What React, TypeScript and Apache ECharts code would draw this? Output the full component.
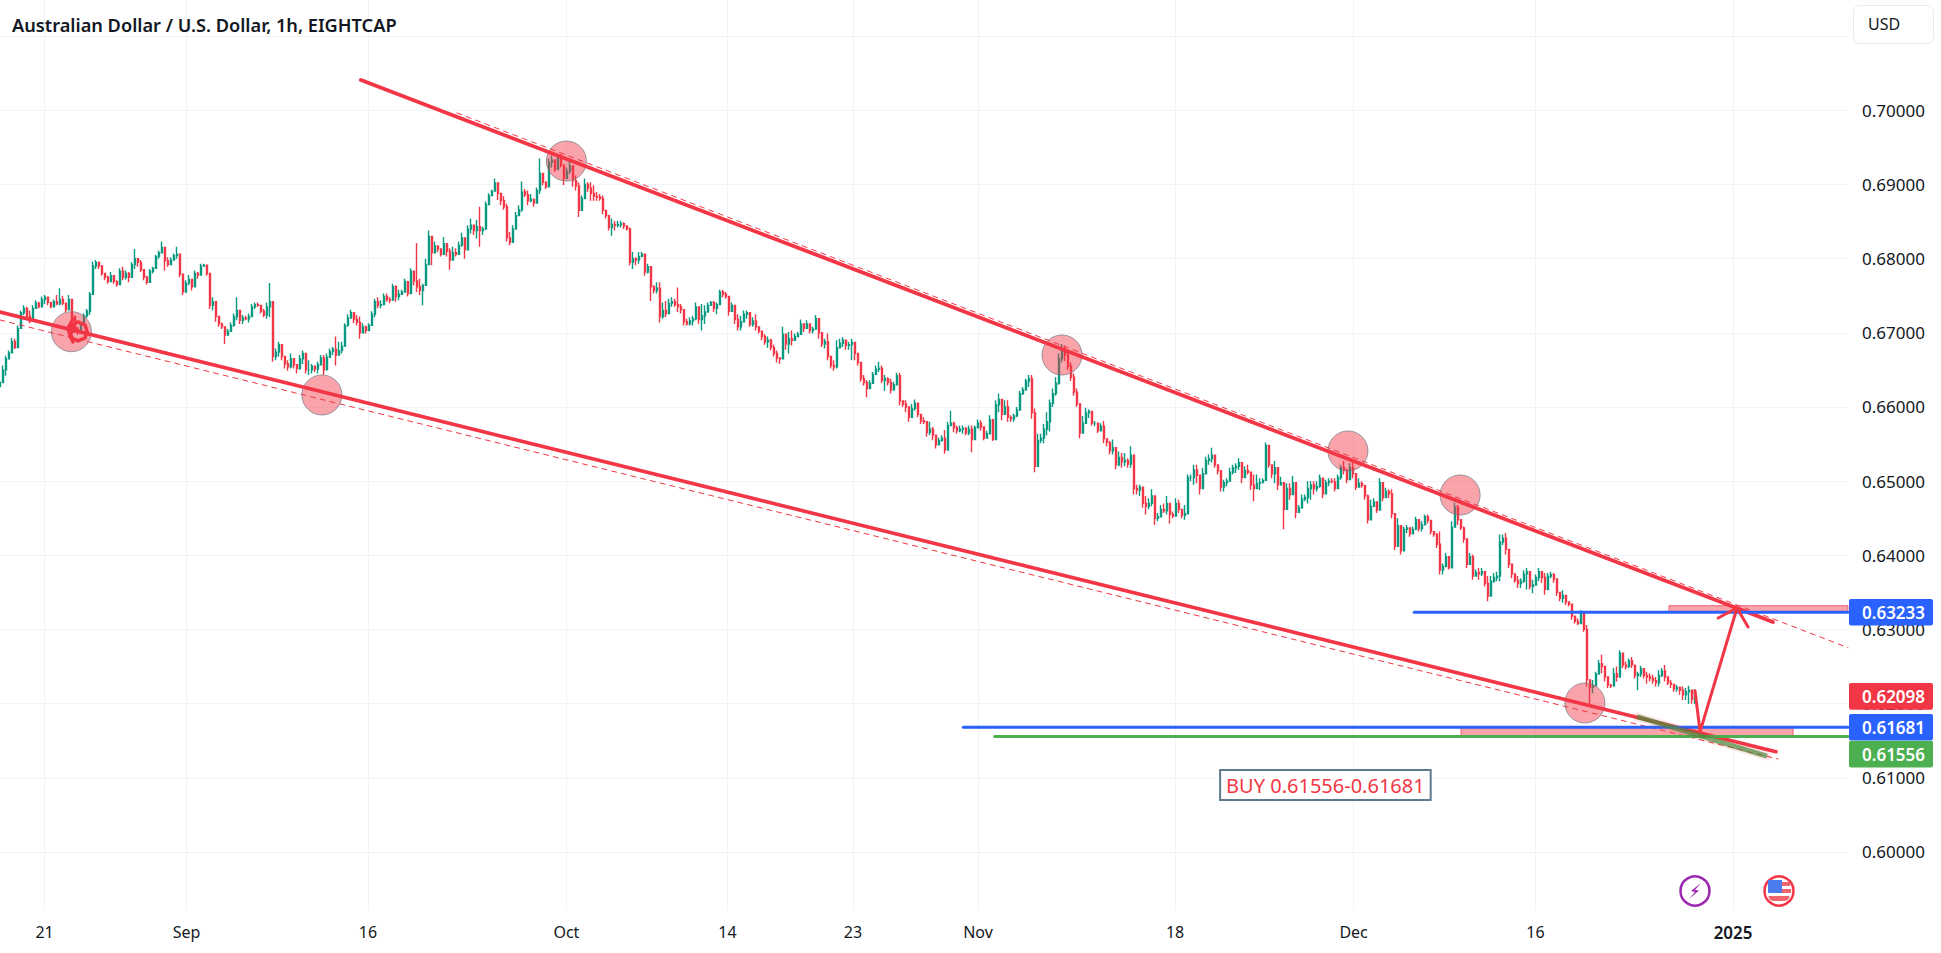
import React, { useEffect, useRef } from "react";
import * as echarts from "echarts";

// Each candle: high, low, close (open = previous close). One candle per 3 px slot.
const augBars = [
.6636,.6625,.6633, .6656,.6642,.6650, .6669,.6642,.6665, .6676,.6667,.6673, .6693,.6675,.6688, .6692,.6678,.6680, .6710,.6692,.6706, .6730,.6710,.6727, .6737,.6724,.6733, .6735,.6719,.6722,
.6730,.6713,.6716, .6737,.6724,.6733, .6744,.6733,.6740, .6742,.6733,.6735, .6749,.6737,.6745, .6751,.6739,.6748, .6748,.6737,.6741, .6741,.6733,.6735, .6745,.6735,.6742, .6751,.6737,.6739,
.6760,.6737,.6745, .6750,.6737,.6740, .6739,.6728,.6731, .6751,.6735,.6745, .6735,.6718,.6722, .6719,.6701,.6705, .6708,.6697,.6703, .6715,.6701,.6712, .6726,.6714,.6723, .6732,.6720,.6729,
.6755,.6724,.6752, .6796,.6753,.6790, .6798,.6786,.6795, .6796,.6786,.6790, .6787,.6777,.6780, .6780,.6771,.6775, .6777,.6766,.6769, .6782,.6769,.6777, .6775,.6766,.6769, .6771,.6762,.6765,
.6787,.6771,.6783, .6789,.6771,.6775, .6784,.6772,.6780, .6782,.6768,.6775, .6795,.6786,.6792, .6813,.6786,.6800, .6800,.6789,.6795, .6798,.6782,.6785, .6782,.6771,.6775, .6777,.6765,.6768,
.6786,.6777,.6783, .6789,.6780,.6787,
];
const sepBars = [
.6805,.6796,.6803, .6811,.6800,.6808, .6823,.6812,.6815, .6811,.6784,.6797, .6802,.6789,.6792, .6802,.6791,.6798, .6807,.6798,.6804, .6816,.6800,.6806,
.6804,.6775,.6779, .6769,.6751,.6755, .6771,.6760,.6767, .6778,.6764,.6772, .6769,.6757,.6762, .6784,.6769,.6780, .6782,.6773,.6778, .6793,.6784,.6790, .6793,.6789,.6791, .6791,.6777,.6780,
.6777,.6732,.6737, .6748,.6730,.6742, .6737,.6715,.6722, .6719,.6708,.6712, .6714,.6705,.6708, .6705,.6685,.6697, .6705,.6696,.6702, .6714,.6701,.6710, .6726,.6708,.6722, .6748,.6717,.6730,
.6726,.6712,.6717, .6724,.6712,.6720, .6723,.6717,.6719, .6726,.6714,.6722, .6739,.6726,.6735, .6741,.6732,.6738, .6741,.6735,.6737, .6737,.6726,.6729, .6732,.6721,.6724, .6741,.6719,.6735,
.6767,.6721,.6742, .6722,.6661,.6668, .6679,.6663,.6674, .6688,.6668,.6684, .6683,.6663,.6668, .6667,.6652,.6658, .6663,.6649,.6654, .6672,.6652,.6665, .6663,.6652,.6657, .6658,.6645,.6652,
.6670,.6650,.6665, .6676,.6658,.6672, .6663,.6645,.6650, .6663,.6643,.6650, .6658,.6645,.6655, .6656,.6647,.6651, .6661,.6645,.6657, .6670,.6656,.6666, .6670,.6643,.6650, .6672,.6652,.6667,
.6679,.6670,.6675, .6681,.6670,.6678, .6695,.6656,.6670, .6688,.6672,.6676, .6688,.6672,.6682, .6713,.6685,.6710, .6725,.6708,.6720, .6731,.6721,.6727, .6728,.6713,.6718, .6724,.6710,.6714,
.6722,.6692,.6700, .6713,.6704,.6708, .6710,.6699,.6703, .6713,.6706,.6710, .6729,.6719,.6725, .6746,.6721,.6742, .6748,.6733,.6737, .6744,.6733,.6738, .6753,.6742,.6749, .6753,.6742,.6745,
.6748,.6740,.6744, .6766,.6751,.6762, .6764,.6742,.6749, .6758,.6744,.6752, .6758,.6751,.6755, .6773,.6760,.6769, .6766,.6749,.6753, .6787,.6771,.6783, .6778,.6764,.6770, .6821,.6755,.6762,
.6773,.6751,.6757, .6766,.6737,.6764, .6800,.6764,.6792, .6838,.6793,.6830, .6823,.6791,.6808, .6823,.6809,.6817, .6816,.6809,.6813, .6814,.6803,.6806, .6829,.6809,.6820, .6818,.6803,.6810,
.6814,.6785,.6798, .6816,.6803,.6808, .6814,.6803,.6806, .6823,.6805,.6818, .6835,.6816,.6828, .6827,.6800,.6812, .6845,.6823,.6840, .6854,.6834,.6845, .6845,.6832,.6838, .6852,.6827,.6843,
.6870,.6816,.6838, .6843,.6832,.6840, .6877,.6863,.6873, .6888,.6877,.6885, .6893,.6888,.6891, .6908,.6893,.6902, .6899,.6879,.6888, .6886,.6872,.6878, .6884,.6866,.6870, .6874,.6823,.6828,
.6836,.6818,.6822, .6845,.6827,.6840, .6863,.6843,.6858, .6872,.6859,.6866, .6904,.6863,.6890, .6894,.6883,.6886, .6892,.6872,.6878, .6887,.6876,.6880, .6881,.6870,.6875, .6896,.6883,.6892,
.6935,.6887,.6915, .6915,.6899,.6903, .6903,.6894,.6897, .6935,.6917,.6930, .6939,.6923,.6933, .6928,.6917,.6920, .6939,.6923,.6935, .6941,.6923,.6926, .6926,.6899,.6908, .6923,.6910,.6918,
];
const octBars = [
.6932,.6914,.6925, .6917,.6897,.6905, .6912,.6892,.6898, .6903,.6856,.6865, .6885,.6878,.6881, .6908,.6881,.6900, .6903,.6890,.6895, .6903,.6878,.6888, .6899,.6878,.6884, .6890,.6878,.6883,
.6887,.6878,.6881, .6885,.6860,.6865, .6865,.6854,.6858, .6854,.6838,.6842, .6854,.6831,.6846, .6851,.6838,.6845, .6851,.6842,.6846, .6851,.6842,.6847, .6849,.6840,.6844, .6845,.6838,.6840,
.6842,.6791,.6795, .6809,.6786,.6800, .6802,.6791,.6798, .6809,.6793,.6803, .6809,.6802,.6806, .6802,.6777,.6782, .6793,.6780,.6789, .6788,.6743,.6762, .6764,.6753,.6757, .6768,.6753,.6760,
.6768,.6714,.6722, .6741,.6719,.6730, .6743,.6721,.6726, .6746,.6730,.6740, .6748,.6735,.6742, .6746,.6735,.6738, .6761,.6728,.6735, .6739,.6726,.6731, .6725,.6710,.6715, .6719,.6710,.6712,
.6721,.6710,.6716, .6723,.6710,.6719, .6741,.6717,.6735, .6735,.6712,.6718, .6739,.6703,.6723, .6737,.6712,.6728, .6741,.6732,.6737, .6743,.6737,.6741, .6743,.6728,.6733, .6741,.6725,.6738,
.6758,.6743,.6755, .6758,.6748,.6752, .6755,.6746,.6749, .6743,.6723,.6729, .6741,.6730,.6737, .6735,.6712,.6718, .6725,.6703,.6708, .6723,.6703,.6715, .6730,.6714,.6725, .6730,.6719,.6727,
.6719,.6708,.6711, .6721,.6708,.6716, .6725,.6703,.6708, .6708,.6699,.6702, .6703,.6690,.6695, .6698,.6684,.6688, .6695,.6680,.6690, .6692,.6676,.6680, .6684,.6668,.6672, .6676,.6660,.6666,
.6667,.6658,.6665, .6708,.6667,.6698, .6697,.6677,.6685, .6701,.6672,.6692, .6703,.6683,.6690, .6699,.6690,.6695, .6701,.6695,.6698, .6718,.6699,.6712, .6712,.6701,.6706, .6717,.6706,.6712,
.6712,.6699,.6703, .6708,.6699,.6705, .6724,.6708,.6719, .6719,.6692,.6700, .6694,.6681,.6685, .6692,.6679,.6688, .6699,.6663,.6668, .6663,.6652,.6656, .6663,.6649,.6654, .6690,.6652,.6680,
.6692,.6679,.6686, .6694,.6681,.6690, .6690,.6677,.6683, .6688,.6677,.6684, .6692,.6663,.6687, .6685,.6663,.6672, .6670,.6656,.6660, .6652,.6634,.6638, .6643,.6629,.6633, .6636,.6613,.6625,
.6636,.6627,.6632, .6647,.6634,.6644, .6656,.6643,.6651, .6661,.6647,.6652, .6656,.6632,.6636, .6643,.6622,.6638, .6640,.6629,.6633, .6638,.6618,.6623, .6634,.6622,.6630, .6646,.6629,.6642,
];
const novBars = [
.6646,.6602,.6608, .6609,.6600,.6604, .6609,.6593,.6600, .6600,.6580,.6586, .6604,.6593,.6598, .6610,.6595,.6605, .6604,.6586,.6590, .6586,.6577,.6581, .6586,.6577,.6580, .6580,.6560,.6566,
.6580,.6562,.6570, .6573,.6555,.6562, .6562,.6544,.6549, .6559,.6551,.6555, .6562,.6553,.6558, .6569,.6537,.6542, .6580,.6564,.6575, .6595,.6575,.6578, .6580,.6566,.6572, .6575,.6564,.6568,
.6575,.6566,.6570, .6575,.6564,.6571, .6573,.6562,.6565, .6575,.6562,.6570, .6575,.6539,.6556, .6575,.6564,.6572, .6583,.6571,.6578, .6582,.6568,.6573, .6564,.6555,.6558, .6568,.6559,.6564,
.6589,.6564,.6583, .6562,.6554,.6556, .6609,.6584,.6603, .6618,.6593,.6610, .6600,.6582,.6590, .6609,.6591,.6600, .6609,.6580,.6586, .6589,.6580,.6584, .6591,.6580,.6588, .6600,.6586,.6596,
.6622,.6604,.6618, .6627,.6616,.6623, .6638,.6622,.6635, .6643,.6627,.6638, .6643,.6584,.6592, .6598,.6512,.6520, .6564,.6519,.6555, .6564,.6551,.6558, .6577,.6551,.6570, .6593,.6562,.6580,
.6610,.6567,.6605, .6625,.6600,.6618, .6640,.6615,.6632, .6672,.6630,.6665, .6685,.6660,.6678, .6683,.6662,.6670, .6675,.6650,.6655, .6660,.6635,.6640, .6645,.6615,.6620, .6625,.6600,.6604,
.6594,.6558,.6565, .6588,.6572,.6578, .6599,.6585,.6592, .6597,.6585,.6594, .6587,.6575,.6578, .6581,.6574,.6578, .6576,.6565,.6568, .6578,.6567,.6574, .6581,.6551,.6557, .6558,.6547,.6552,
.6554,.6536,.6541, .6556,.6536,.6545, .6536,.6516,.6522, .6540,.6520,.6532, .6538,.6518,.6526, .6538,.6520,.6528, .6531,.6518,.6523, .6547,.6518,.6535, .6531,.6482,.6490, .6495,.6482,.6488,
.6495,.6480,.6492, .6489,.6464,.6470, .6480,.6455,.6466, .6477,.6462,.6470, .6489,.6466,.6480, .6457,.6441,.6450, .6457,.6446,.6452, .6468,.6455,.6462, .6470,.6457,.6460, .6480,.6455,.6470,
.6468,.6443,.6455, .6459,.6450,.6453, .6477,.6462,.6470, .6475,.6457,.6462, .6461,.6450,.6454, .6468,.6448,.6456, .6509,.6462,.6505, .6509,.6500,.6505, .6522,.6495,.6515, .6522,.6497,.6508,
.6504,.6482,.6490, .6518,.6491,.6510, .6533,.6513,.6528, .6536,.6522,.6530, .6545,.6525,.6535, .6531,.6518,.6522, .6522,.6509,.6514, .6509,.6486,.6492, .6502,.6486,.6498, .6504,.6493,.6500,
.6518,.6500,.6512, .6522,.6509,.6518, .6524,.6511,.6520, .6531,.6515,.6525, .6520,.6497,.6505, .6520,.6509,.6514, .6522,.6509,.6512, .6513,.6488,.6495, .6509,.6473,.6490, .6509,.6491,.6497,
];
const decBars = [
.6504,.6488,.6498, .6504,.6497,.6501, .6552,.6524,.6548, .6540,.6518,.6522, .6518,.6504,.6510, .6527,.6497,.6518, .6506,.6488,.6495, .6506,.6495,.6498, .6468,.6435,.6462, .6497,.6477,.6490,
.6497,.6475,.6482, .6507,.6484,.6498, .6484,.6450,.6458, .6468,.6457,.6464, .6482,.6470,.6476, .6482,.6473,.6478, .6500,.6470,.6490,
.6500,.6475,.6495, .6500,.6482,.6490, .6500,.6486,.6493, .6509,.6491,.6504, .6491,.6477,.6483, .6502,.6491,.6498, .6504,.6493,.6500, .6504,.6497,.6499, .6504,.6486,.6490, .6509,.6497,.6505,
.6522,.6502,.6518, .6527,.6509,.6515, .6513,.6497,.6502, .6524,.6506,.6518, .6527,.6504,.6510, .6504,.6488,.6492, .6504,.6491,.6497, .6500,.6491,.6494, .6495,.6475,.6480, .6482,.6443,.6448,
.6475,.6457,.6466, .6477,.6466,.6472, .6470,.6457,.6461, .6504,.6477,.6498, .6491,.6473,.6478, .6491,.6480,.6486, .6489,.6477,.6483, .6489,.6450,.6456, .6450,.6407,.6412, .6450,.6423,.6440,
.6428,.6401,.6406, .6439,.6425,.6435, .6441,.6430,.6437, .6434,.6425,.6429, .6439,.6430,.6435, .6452,.6437,.6448, .6441,.6432,.6436, .6446,.6432,.6441, .6455,.6448,.6452, .6455,.6443,.6447,
.6443,.6428,.6432, .6432,.6425,.6428, .6430,.6410,.6415, .6432,.6374,.6380, .6389,.6374,.6385, .6403,.6385,.6398, .6387,.6381,.6383, .6446,.6383,.6438, .6471,.6448,.6465, .6468,.6441,.6448,
.6443,.6434,.6437, .6439,.6417,.6422, .6405,.6383,.6388, .6403,.6390,.6398, .6401,.6367,.6372, .6381,.6374,.6377, .6383,.6367,.6375, .6383,.6372,.6378, .6372,.6358,.6362, .6372,.6338,.6345,
.6372,.6354,.6365, .6376,.6363,.6370, .6378,.6365,.6372, .6428,.6365,.6418, .6428,.6414,.6423, .6430,.6401,.6408, .6401,.6383,.6388, .6389,.6369,.6375, .6372,.6363,.6366, .6372,.6356,.6362,
.6369,.6356,.6365, .6380,.6363,.6375, .6383,.6354,.6378, .6363,.6354,.6358, .6367,.6349,.6360, .6374,.6363,.6370, .6383,.6365,.6378, .6378,.6363,.6370, .6376,.6347,.6354, .6376,.6363,.6372,
.6378,.6369,.6374, .6376,.6363,.6368, .6363,.6345,.6350, .6351,.6338,.6342, .6353,.6336,.6346, .6345,.6333,.6337, .6338,.6331,.6334, .6333,.6313,.6318, .6317,.6308,.6311, .6315,.6306,.6308,
.6326,.6315,.6323, .6313,.6297,.6300, .6306,.6223,.6232, .6230,.6198,.6222, .6232,.6214,.6224, .6243,.6234,.6240, .6259,.6245,.6254, .6266,.6241,.6250, .6248,.6230,.6236, .6234,.6221,.6225,
.6227,.6221,.6224, .6248,.6223,.6240, .6250,.6230,.6236, .6272,.6252,.6268, .6266,.6248,.6252, .6257,.6246,.6250, .6261,.6248,.6258, .6263,.6248,.6252, .6248,.6234,.6238, .6243,.6218,.6240,
.6251,.6236,.6247, .6243,.6234,.6238, .6243,.6227,.6236, .6241,.6230,.6234, .6239,.6227,.6231, .6236,.6223,.6228, .6245,.6223,.6238, .6248,.6236,.6244, .6252,.6230,.6236, .6234,.6225,.6228,
.6232,.6221,.6226, .6227,.6216,.6220, .6225,.6216,.6222, .6223,.6212,.6218, .6223,.6205,.6212, .6221,.6205,.6216, .6224,.6200,.6218, .6216,.6200,.6206, .6219,.6200,.6210,
];

const firstOpen = 0.6628;
const slotCount = 617; // slots across the plot width

// Time axis ticks, in slot units
const timeTickSlots = [14.87, 62.2, 122.67, 188.8, 242.5, 284.3, 326, 391.7, 451.2, 511.8, 577.7];
const timeTickLabels = ["21", "Sep", "16", "Oct", "14", "23", "Nov", "18", "Dec", "16", "2025"];

// Price axis
const yMin = 0.59218;
const yMax = 0.71487;
const priceGrid = [0.6, 0.61, 0.62, 0.63, 0.64, 0.65, 0.66, 0.67, 0.68, 0.69, 0.7, 0.71];
const priceLabels = [0.6, 0.61, 0.62, 0.63, 0.64, 0.65, 0.66, 0.67, 0.68, 0.69, 0.7];

// Drawings: [slot, price]
const lowerTrend = [[0, 0.6728], [592, 0.61352]];
const lowerDashed = [[0, 0.67173], [592.7, 0.61254]];
const upperTrend = [[120.3, 0.70409], [591, 0.63101]];
const upperDashed = [[152.3, 0.69964], [616, 0.62755]];
const blueUpper = [[471.4, 0.63233], [616, 0.63233]];
const blueLower = [[321.1, 0.61681], [616, 0.61681]];
const greenLine = [[331.6, 0.61556], [616, 0.61556]];
const arrowPath = [[565, 0.62175], [566.7, 0.61622], [579, 0.6329]];
const arrowHead = [[572.7, 0.63155], [579, 0.6329], [582.7, 0.63034]];
const greenStroke = [[545.7, 0.61824], [589, 0.61294]];
const touchCircles = [[23.8, 0.67015], [107.3, 0.66162], [188.8, 0.69316], [354, 0.66701], [449.3, 0.65407], [486.7, 0.64813], [528.3, 0.62009]];
const scribbleRing = [[23.33, 0.67024], [24, 0.67105], [26, 0.67146], [28.33, 0.67105], [29, 0.67024], [28.33, 0.6693], [26, 0.6689], [24, 0.6693], [23.33, 0.67024]];
const scribbleHook = [[24.33, 0.67186], [22.67, 0.67065], [23.33, 0.66957], [24.33, 0.66877]];
const scribbleDot = [[24.33, 0.67051]];
const zoneUpper = [[556.3, 0.63321], [616, 0.63233]];
const zoneLower = [[487, 0.61681], [597.7, 0.61556]];
const noteAnchor = [[441.8, 0.60903]];
const noteText = "BUY 0.61556-0.61681";

// Price tags
const tagPrices = [0.63233, 0.62098, 0.61681, 0.61556];
const tagTexts = ["0.63233", "0.62098", "0.61681", "0.61556"];
const tagColors = ["#2962ff", "#f23645", "#2962ff", "#4caf50"];
const tagShifts = [0, 0, 0, 17.5];

const RED = "#f23645";
const FONT = '"Noto Sans", sans-serif';

function buildCandles() {
  const flat = [...augBars, ...sepBars, ...octBars, ...novBars, ...decBars];
  const out: number[][] = [];
  let prev = firstOpen;
  for (let i = 0; i + 2 < flat.length; i += 3) {
    const h = flat[i], l = flat[i + 1], c = flat[i + 2];
    out.push([prev, c, Math.min(l, prev, c), Math.max(h, prev, c)]);
    prev = c;
  }
  return out;
}

function line(pts: number[][], color: string, width: number, z: number, extra: any = {}) {
  return {
    type: "line", xAxisIndex: 1, yAxisIndex: 0, data: pts, showSymbol: false, symbol: "none",
    silent: true, z, lineStyle: { color, width, cap: "round", join: "round", ...extra },
  };
}

export default function App() {
  const ref = useRef<HTMLDivElement>(null);
  useEffect(() => {
    const chart = echarts.init(ref.current!, null, { renderer: "svg" });
    const categories = Array.from({ length: slotCount }, (_, i) => String(i));
    chart.setOption({
      animation: false,
      backgroundColor: "#ffffff",
      grid: { left: 0, top: 0, width: 1848, height: 910, containLabel: false },
      xAxis: [
        { type: "category", data: categories, boundaryGap: false, show: false },
        {
          type: "value", min: 0, max: slotCount - 1, position: "bottom",
          axisLine: { show: false },
          axisTick: { show: false, customValues: timeTickSlots },
          splitLine: { show: true, lineStyle: { color: "#f0f3fa", width: 1 } },
          axisLabel: {
            customValues: timeTickSlots, margin: 14, color: "#131722", fontFamily: FONT, fontSize: 16,
            hideOverlap: false, showMinLabel: true, showMaxLabel: true,
            formatter: (v: number) => {
              const k = timeTickSlots.findIndex((s) => Math.abs(s - v) < 0.01);
              const t = timeTickLabels[k] ?? "";
              return t === "2025" ? "{b|2025}" : t;
            },
            rich: { b: { fontFamily: FONT, fontSize: 17, fontWeight: 600, color: "#131722" } },
          },
        },
      ],
      yAxis: {
        type: "value", min: yMin, max: yMax, position: "right", scale: true,
        axisLine: { show: false },
        axisTick: { show: false, customValues: priceGrid },
        splitLine: { show: true, lineStyle: { color: "#f0f3fa", width: 1 } },
        axisLabel: {
          customValues: priceLabels, margin: 14, color: "#131722", fontFamily: FONT, fontSize: 17,
          formatter: (v: number) => v.toFixed(5),
        },
      },
      series: [
        {
          type: "candlestick", xAxisIndex: 0, yAxisIndex: 0, barWidth: 2, z: 2, silent: true,
          data: buildCandles(),
          itemStyle: { color: "#089981", color0: RED, borderColor: "#089981", borderColor0: RED, borderWidth: 1.4 },
        },
        line(lowerDashed, RED, 1, 3, { type: [5, 5] }),
        line(upperDashed, RED, 1, 3, { type: [5, 5] }),
        {
          type: "scatter", xAxisIndex: 1, yAxisIndex: 0, data: touchCircles, symbolSize: 40, z: 4, silent: true,
          itemStyle: { color: "rgba(242,54,69,0.45)", borderColor: "rgba(120,123,134,0.75)", borderWidth: 1, opacity: 1 },
        },
        line(scribbleRing, RED, 3.5, 5, { }),
        line(scribbleHook, RED, 3.5, 5),
        { type: "scatter", xAxisIndex: 1, yAxisIndex: 0, data: scribbleDot, symbolSize: 8, z: 5, silent: true, itemStyle: { color: RED, opacity: 1 } },
        line(lowerTrend, RED, 3.6, 5),
        line(upperTrend, RED, 3.8, 5),
        line(blueUpper, "#2962ff", 3, 6),
        line(blueLower, "#2962ff", 3, 6),
        line(greenLine, "#4caf50", 3, 6),
        {
          ...line([], RED, 0, 7), type: "line",
          markArea: {
            silent: true,
            itemStyle: { color: "rgba(242,54,69,0.45)", borderColor: "rgba(242,54,69,0.7)", borderWidth: 1 },
            data: [
              [{ coord: zoneUpper[0] }, { coord: zoneUpper[1] }],
              [{ coord: zoneLower[0] }, { coord: zoneLower[1] }],
            ],
          },
        },
        line(greenStroke, "rgba(242,54,69,0.12)", 9, 7),
        line(greenStroke, "rgba(76,135,60,0.7)", 5, 8, { cap: "butt" }),
        line(arrowPath, RED, 3, 9),
        line(arrowHead, RED, 3, 9),
        {
          type: "scatter", xAxisIndex: 1, yAxisIndex: 0, data: noteAnchor, symbolSize: 1, z: 10, silent: true,
          itemStyle: { color: "rgba(0,0,0,0)", opacity: 1 },
          label: {
            show: true, position: "inside", formatter: noteText, color: RED, fontFamily: FONT, fontSize: 20, lineHeight: 22, opacity: 1,
            backgroundColor: "#ffffff", borderColor: "#5f7a8c", borderWidth: 2, padding: [3, 5, 3, 5],
          },
        },
      ],
    });

    const tagGraphics: any[] = [];
    tagPrices.forEach((p, k) => {
      const cy = (chart.convertToPixel({ yAxisIndex: 0 }, p) as number) + tagShifts[k];
      tagGraphics.push({
        type: "rect", shape: { x: 1849, y: cy - 13.3, width: 84, height: 26.6, r: 2 },
        style: { fill: tagColors[k] }, z: 100,
      });
      tagGraphics.push({
        type: "text", x: 1862, y: cy, z: 101,
        style: { text: tagTexts[k], fill: "#ffffff", font: `600 17px ${FONT}`, textVerticalAlign: "middle", verticalAlign: "middle" },
      });
    });
    const boltPts = [[1701, 883], [1691, 891], [1695, 892], [1689, 899], [1699, 890.5], [1695, 890]];
    chart.setOption({
      graphic: [
        { type: "text", x: 12, y: 25, z: 100, style: { text: "Australian Dollar / U.S. Dollar, 1h, EIGHTCAP", fill: "#131722", font: `600 18.2px ${FONT}`, verticalAlign: "middle" } },
        { type: "rect", shape: { x: 1853.5, y: 5.5, width: 80, height: 38, r: 6 }, style: { fill: "#ffffff", stroke: "#e9ebf3", lineWidth: 1 }, z: 100 },
        { type: "text", x: 1868, y: 24, z: 101, style: { text: "USD", fill: "#131722", font: `400 16px ${FONT}`, verticalAlign: "middle" } },
        ...tagGraphics,
        { type: "circle", shape: { cx: 1695, cy: 891, r: 14.5 }, style: { fill: "#ffffff", stroke: "#9c27b0", lineWidth: 2.5 }, z: 100 },
        { type: "polygon", shape: { points: boltPts }, style: { fill: "#9c27b0" }, z: 101 },
        { type: "circle", shape: { cx: 1779, cy: 891, r: 14.5 }, style: { fill: "#ffffff", stroke: RED, lineWidth: 2.5 }, z: 100 },
        { type: "rect", shape: { x: 1768, y: 880, width: 14, height: 13 }, style: { fill: "#4a7cf0" }, z: 101 },
        { type: "rect", shape: { x: 1782, y: 882, width: 8, height: 4 }, style: { fill: "#f0646e" }, z: 101 },
        { type: "rect", shape: { x: 1782, y: 889, width: 9, height: 4 }, style: { fill: "#f0646e" }, z: 101 },
        { type: "rect", shape: { x: 1768.5, y: 896, width: 21, height: 5, r: [0, 0, 5, 5] }, style: { fill: "#f0646e" }, z: 101 },
      ],
    });
    return () => chart.dispose();
  }, []);
  return <div ref={ref} style={{ position: "fixed", left: 0, top: 0, width: 1941, height: 953 }} />;
}
